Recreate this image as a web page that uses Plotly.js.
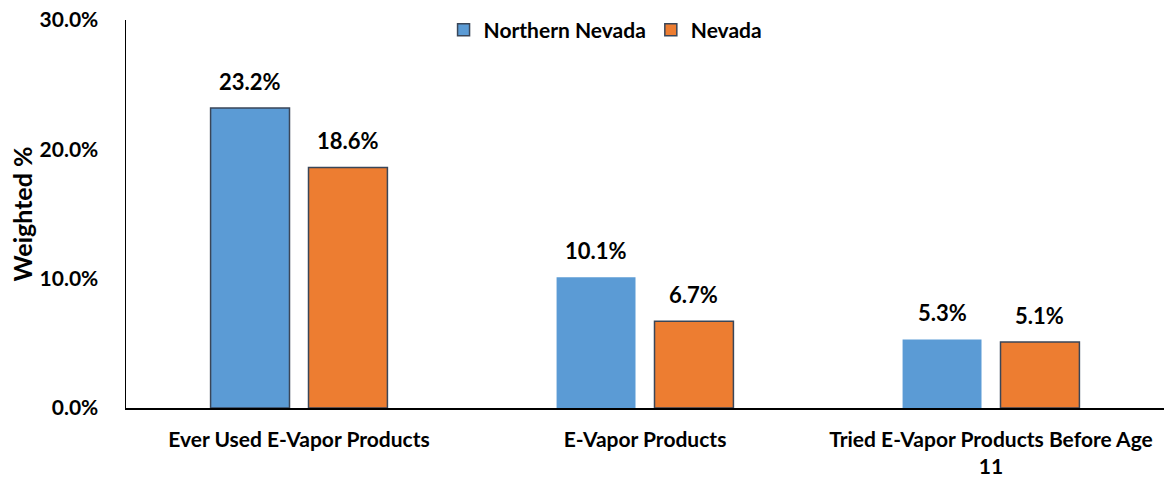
<!DOCTYPE html>
<html>
<head>
<meta charset="utf-8">
<script src="https://cdn.plot.ly/plotly-3.0.1.min.js"></script>
<style>
  html, body { margin: 0; padding: 0; background: #fff; }
  #chart { width: 1164px; height: 478px; }
</style>
</head>
<body>
<div id="chart"></div>
<script>
const categories = [
  "Ever Used E-Vapor Products",
  "E-Vapor Products",
  "Tried E-Vapor Products Before Age<br>11",
];
const northernNevada = [23.2, 10.1, 5.3];
const nevada = [18.6, 6.7, 5.1];
const yTicks = [0, 10, 20, 30];

const colors = {
  blue: "#5b9bd5",
  orange: "#ed7d31",
  border: "#3a4658",
  text: "#000000",
};

const fontFamily = "Lato, 'Open Sans', sans-serif";
const fontSize = 21;
const bargap = 0.434;

const label = (v) => `<b>${v.toFixed(1)}%</b>`;

// value labels sit a little higher above the bars than plotly's "outside" text does
const offset = (1 - bargap) / 4;
const valueLabels = [];
[northernNevada, nevada].forEach((series, s) => {
  series.forEach((v, i) => {
    valueLabels.push({
      x: i + (s === 0 ? -offset : offset),
      y: v,
      xref: "x",
      yref: "y",
      text: label(v),
      showarrow: false,
      yanchor: "bottom",
      yshift: 11,
      font: { size: 22, family: fontFamily, color: colors.text },
    });
  });
});

Plotly.newPlot(
  "chart",
  [
    {
      type: "bar",
      name: "<b>Northern Nevada</b>",
      x: categories,
      y: northernNevada,
      marker: {
        color: colors.blue,
        line: { color: colors.border, width: [1.5, 0, 0] },
      },
      hoverinfo: "skip",
    },
    {
      type: "bar",
      name: "<b>Nevada</b>",
      x: categories,
      y: nevada,
      marker: {
        color: colors.orange,
        line: { color: colors.border, width: 1.5 },
      },
      hoverinfo: "skip",
    },
  ],
  {
    width: 1164,
    height: 478,
    paper_bgcolor: "#fff",
    plot_bgcolor: "#fff",
    font: { family: fontFamily, color: colors.text, size: fontSize },
    margin: { l: 126, r: 0, t: 20, b: 70 },
    barmode: "group",
    bargap: bargap,
    bargroupgap: 0.194,
    showlegend: true,
    legend: {
      orientation: "h",
      x: 0.462,
      xanchor: "center",
      y: 0.974,
      yanchor: "middle",
      font: { size: fontSize },
      itemwidth: 30,
    },
    annotations: valueLabels,
    xaxis: {
      showline: true,
      linecolor: "#000",
      linewidth: 1.5,
      ticks: "outside",
      ticklen: 12,
      tickcolor: "rgba(0,0,0,0)",
      tickfont: { size: fontSize },
      ticktext: categories.map((c) => `<b>${c}</b>`),
      tickvals: categories,
      showgrid: false,
      zeroline: false,
      fixedrange: true,
    },
    yaxis: {
      range: [0, 30],
      tickvals: yTicks,
      ticktext: yTicks.map((v) => `<b>${v.toFixed(1)}%</b>`),
      tickfont: { size: fontSize },
      ticks: "outside",
      ticklen: 22,
      tickcolor: "rgba(0,0,0,0)",
      showline: true,
      linecolor: "#000",
      linewidth: 1.5,
      showgrid: false,
      zeroline: false,
      title: { text: "<b>Weighted %</b>", font: { size: 25 }, standoff: 0 },
      automargin: false,
    },
  },
  { displayModeBar: false, staticPlot: true }
);
</script>
</body>
</html>
